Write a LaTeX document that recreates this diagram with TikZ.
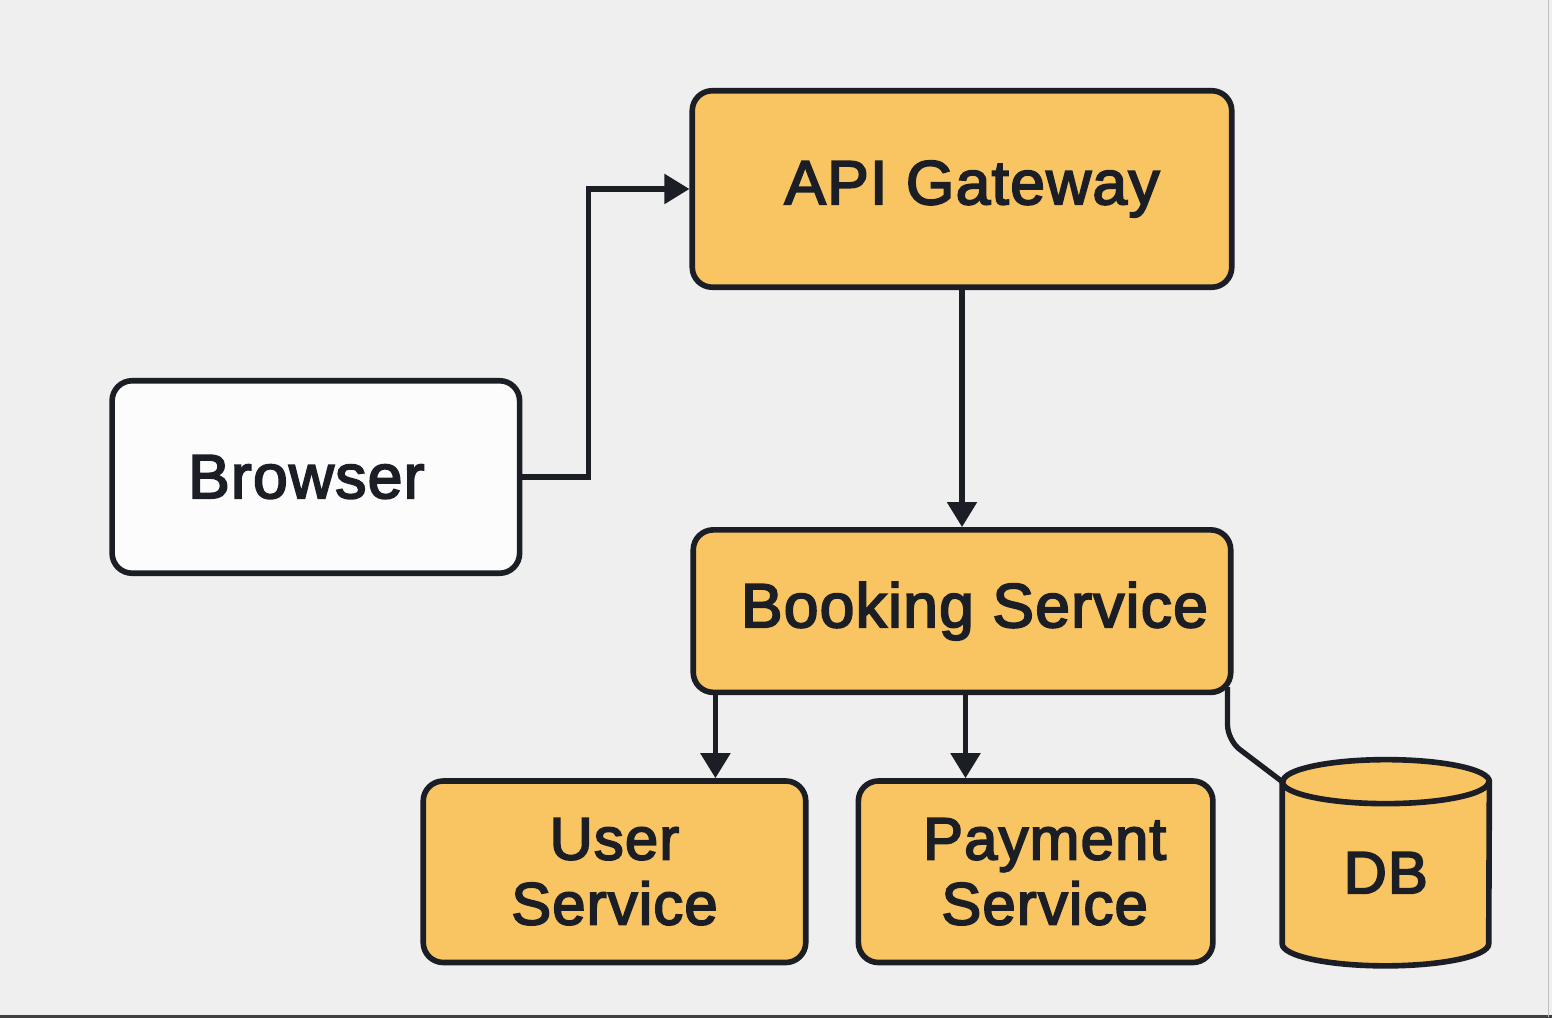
\documentclass[tikz,border=0pt]{standalone}
\usepackage{fontspec}
\newfontfamily\boxfont{Liberation Sans}[FakeBold=3, LetterSpace=2]
\usepackage{tikz}
\usetikzlibrary{arrows.meta,positioning,backgrounds}
\definecolor{pagebg}{HTML}{EFEFEF}
\definecolor{ambre}{HTML}{F9C563}
\definecolor{inkdark}{HTML}{1B1E25}
\definecolor{webwhite}{HTML}{FCFCFC}
\tikzset{
  box/.style={rectangle, draw=inkdark, fill=ambre, rounded corners=0.4cm,
    line width=3.2pt, align=center, minimum width=#1, inner sep=0pt,
    text=inkdark, font=\boxfont\fontsize{35.5}{40}\selectfont},
  box/.default=7cm,
  client/.style={box=#1, fill=webwhite},
  client/.default=7cm,
  svc/.style={box=#1, font=\boxfont\fontsize{34}{37}\selectfont},
  svc/.default=7cm,
  flow/.style={-{Triangle[length=0.5cm,width=0.58cm]}, line width=3pt, draw=inkdark},
  link/.style={line width=3pt, draw=inkdark, rounded corners=0.3cm},
  dbline/.style={line width=3.2pt, draw=inkdark},
}

\begin{document}
\begin{tikzpicture}
    \useasboundingbox (-19.24,3.78) rectangle (11.80,-16.58);

    \node[box=10.79cm, minimum height=3.93cm] (api) at (0,0) {\hspace*{0.4cm}API Gateway};
    \node[box=10.75cm, minimum height=3.25cm, below=4.74cm of api] (booking) {\hspace*{0.5cm}Booking Service};
    \node[client=8.15cm, minimum height=3.85cm, left=3.34cm of api, yshift=-5.76cm] (browser) {Browser\hspace*{0.38cm}};

    \node[svc=7.65cm, minimum height=3.63cm, below=1.66cm of booking, xshift=-6.95cm] (user) {User\\Service};
    \node[svc=7.09cm, minimum height=3.63cm, right=0.94cm of user] (payment) {\hspace*{0.36cm}Payment\\\hspace*{0.36cm}Service};
    \node[rectangle, minimum width=4.13cm, minimum height=4.11cm, inner sep=0pt,
      right=1.33cm of payment, yshift=0.18cm,
      label={[text=inkdark, font=\boxfont\fontsize{34}{38}\selectfont, yshift=-0.2cm]center:DB}] (db) {};

    % page and database drum behind the nodes
    \begin{scope}[on background layer]
      \fill[pagebg] (-19.24,3.78) rectangle (11.80,-16.58);
      \draw[dbline, fill=ambre]
        ([yshift=-0.44cm]db.north west) -- ([yshift=0.44cm]db.south west)
        arc[start angle=180, end angle=360, x radius=2.065cm, y radius=0.44cm]
        -- ([yshift=-0.44cm]db.north east)
        arc[start angle=0, end angle=180, x radius=2.065cm, y radius=0.44cm] -- cycle;
      \draw[dbline] ([yshift=-0.44cm]db.north west)
        arc[start angle=180, end angle=360, x radius=2.065cm, y radius=0.44cm];
    \end{scope}

    \draw[flow] (browser.east) -- ++(1.32cm,0) |- (api.west);
    \draw[flow] (api.south) -- (booking.north);
    \draw[flow] ([xshift=0.5cm]booking.south west) -- ([xshift=0.5cm]booking.south west |- user.north);
    \draw[flow] ([xshift=0.07cm]booking.south) -- ([xshift=0.07cm]booking.south |- payment.north);
    \draw[link] ([xshift=-0.12cm,yshift=0.16cm]booking.south east) -- ++(0,-1.06cm) -- ([yshift=-0.44cm]db.north west);

    % frame edges of the screenshot
    \draw[line width=1.7pt, draw=black!75] (-19.24,-16.55) -- (11.80,-16.55);
    \draw[line width=1.1pt, draw=black!25] (11.73,3.78) -- (11.73,-16.55);
\end{tikzpicture}
\end{document}
